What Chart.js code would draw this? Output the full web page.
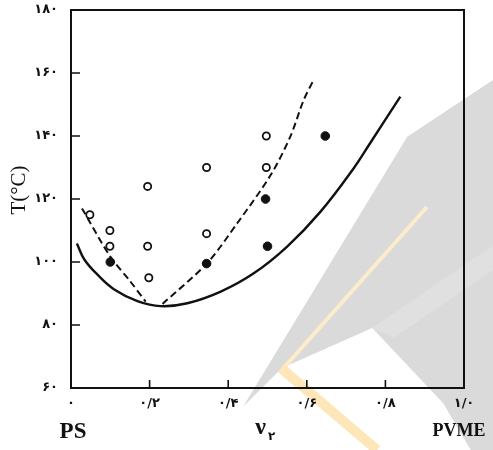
<!DOCTYPE html>
<html>
<head>
<meta charset="utf-8">
<script src="https://cdn.jsdelivr.net/npm/chart.js@4/dist/chart.umd.min.js"></script>
<style>
  html, body { margin: 0; padding: 0; background: #ffffff; }
  #wrap { width: 493px; height: 450px; }
</style>
</head>
<body>
<div id="wrap"><canvas id="c" width="493" height="450"></canvas></div>
<script>
// ---- Tick labels (Persian digits) ----
const xTickValues = [0, 0.2, 0.4, 0.6, 0.8, 1.0];
const xTickLabels = ['۰', '۰/۲', '۰/۴', '۰/۶', '۰/۸', '۱/۰'];
const yTickValues = [60, 80, 100, 120, 140, 160, 180];
const yTickLabels = ['۶۰', '۸۰', '۱۰۰', '۱۲۰', '۱۴۰', '۱۶۰', '۱۸۰'];

// ---- Open circles (one phase) ----
const openV = [0.048, 0.099, 0.099, 0.195, 0.195, 0.198, 0.345, 0.345, 0.497, 0.497];
const openT = [115, 110, 105, 124, 105, 95, 130, 109, 140, 130];

// ---- Filled circles (two phases) ----
const filledV = [0.100, 0.345, 0.495, 0.500, 0.647];
const filledT = [100, 99.5, 120, 105, 140];

// ---- Solid curve (binodal) ----
const solidV = [0.015, 0.034, 0.068, 0.110, 0.169, 0.228, 0.296, 0.381, 0.465, 0.550, 0.635, 0.719, 0.761, 0.838];
const solidT = [105.9, 100.8, 95.9, 91.3, 87.6, 86.0, 86.9, 90.6, 96.4, 104.9, 116.0, 129.7, 137.7, 152.5];

// ---- Dashed curve, left branch ----
const dashLeftV = [0.028, 0.100, 0.148, 0.190];
const dashLeftT = [117.0, 101.7, 94.3, 87.4];

// ---- Dashed curve, right branch ----
const dashRightV = [0.233, 0.346, 0.423, 0.508, 0.558, 0.592, 0.618];
const dashRightT = [86.7, 99.6, 112.3, 127.6, 139.8, 151.4, 158.0];

const pts = (xs, ys) => xs.map((x, i) => ({ x: x, y: ys[i] }));

// Background watermark (decorative, in canvas fractions)
const watermarkPlugin = {
  id: 'watermark',
  beforeDraw(chart) {
    const ctx = chart.ctx, W = chart.width, H = chart.height;
    const P = (fx, fy) => [fx * W, fy * H];
    const fillPoly = (arr, col) => {
      ctx.fillStyle = col;
      ctx.beginPath();
      arr.forEach((p, i) => i ? ctx.lineTo(p[0], p[1]) : ctx.moveTo(p[0], p[1]));
      ctx.closePath();
      ctx.fill();
    };
    ctx.save();
    fillPoly([P(0.826, 0.304), P(1.0, 0.178), P(1.0, 1.0), P(0.955, 1.0),
              P(0.899, 0.896), P(0.755, 0.729), P(0.572, 0.818), P(0.493, 0.904)], '#dadada');
    fillPoly([P(0.755, 0.729), P(1.0, 0.545), P(1.0, 0.60), P(0.80, 0.75)], '#e0e0e0');
    ctx.strokeStyle = '#fdeccb';
    ctx.lineWidth = 4;
    ctx.lineCap = 'butt';
    ctx.beginPath();
    ctx.moveTo(...P(0.866, 0.460));
    ctx.lineTo(...P(0.572, 0.822));
    ctx.stroke();
    ctx.strokeStyle = '#fde6b8';
    ctx.lineWidth = 10;
    ctx.beginPath();
    ctx.moveTo(...P(0.570, 0.818));
    ctx.lineTo(...P(0.765, 1.0));
    ctx.stroke();
    ctx.restore();
  }
};

// Frame + inward ticks
const framePlugin = {
  id: 'frame',
  beforeDatasetsDraw(chart) {
    const { ctx, chartArea: a, scales } = chart;
    ctx.save();
    ctx.strokeStyle = '#111';
    ctx.lineWidth = 2;
    ctx.strokeRect(a.left, a.top, a.right - a.left, a.bottom - a.top);
    ctx.lineWidth = 1.6;
    ctx.beginPath();
    xTickValues.forEach(v => {
      const px = scales.x.getPixelForValue(v);
      if (px > a.left + 2 && px < a.right - 2) {
        ctx.moveTo(px, a.bottom);
        ctx.lineTo(px, a.bottom - 8);
      }
    });
    yTickValues.forEach(v => {
      const py = scales.y.getPixelForValue(v);
      if (py > a.top + 2 && py < a.bottom - 2) {
        ctx.moveTo(a.left, py);
        ctx.lineTo(a.left + 9, py);
      }
    });
    ctx.stroke();
    ctx.restore();
  }
};

// Axis captions
const captionPlugin = {
  id: 'captions',
  afterDraw(chart) {
    const { ctx, scales } = chart;
    const xs = scales.x;
    ctx.save();
    ctx.fillStyle = '#111';
    ctx.textBaseline = 'middle';
    ctx.textAlign = 'center';
    ctx.font = 'bold 23px "Liberation Serif"';
    ctx.fillText('PS', xs.getPixelForValue(0) + 2, 432);
    ctx.font = 'bold 18px "Liberation Serif"';
    ctx.fillText('PVME', xs.getPixelForValue(1) - 5, 431);
    const nx = xs.getPixelForValue(0.49);
    ctx.font = 'bold 24px "Liberation Serif"';
    ctx.fillText('ν', nx - 3, 428);
    ctx.font = 'bold 12px "DejaVu Sans"';
    ctx.fillText('۲', nx + 8, 437);
    ctx.translate(19, 190);
    ctx.rotate(-Math.PI / 2);
    ctx.font = '21px "Liberation Serif"';
    ctx.fillText('T(°C)', 0, 0);
    ctx.restore();
  }
};

const tickFont = { family: '"DejaVu Sans"', size: 13, weight: 'bold' };

new Chart(document.getElementById('c'), {
  type: 'scatter',
  data: {
    datasets: [
      {
        label: 'solid', data: pts(solidV, solidT), showLine: true,
        borderColor: '#111', borderWidth: 2.4, pointRadius: 0,
        tension: 0.4, fill: false
      },
      {
        label: 'dashLeft', data: pts(dashLeftV, dashLeftT), showLine: true,
        borderColor: '#111', borderWidth: 2, borderDash: [7, 4], pointRadius: 0,
        tension: 0.3, fill: false
      },
      {
        label: 'dashRight', data: pts(dashRightV, dashRightT), showLine: true,
        borderColor: '#111', borderWidth: 2, borderDash: [7, 4], pointRadius: 0,
        tension: 0.3, fill: false
      },
      {
        label: 'open', data: pts(openV, openT), showLine: false,
        pointRadius: 3.6, pointBorderWidth: 1.8, pointBorderColor: '#111',
        pointBackgroundColor: '#ffffff'
      },
      {
        label: 'filled', data: pts(filledV, filledT), showLine: false,
        pointRadius: 4.3, pointBorderWidth: 1, pointBorderColor: '#111',
        pointBackgroundColor: '#111'
      }
    ]
  },
  options: {
    responsive: false,
    animation: false,
    layout: { padding: { top: 10, right: 29, left: 0, bottom: 0 } },
    plugins: { legend: { display: false }, tooltip: { enabled: false } },
    scales: {
      x: {
        type: 'linear', min: 0, max: 1,
        afterBuildTicks: s => { s.ticks = xTickValues.map(v => ({ value: v })); },
        afterFit: s => { s.height = 62; s.paddingLeft = 0; s.paddingRight = 0; },
        grid: { display: false, drawTicks: false },
        border: { display: true, color: '#111', width: 2 },
        ticks: {
          color: '#111', font: tickFont, padding: 8, maxRotation: 0,
          callback: v => xTickLabels[xTickValues.findIndex(t => Math.abs(t - v) < 1e-6)]
        }
      },
      y: {
        type: 'linear', min: 60, max: 180,
        afterBuildTicks: s => { s.ticks = yTickValues.map(v => ({ value: v })); },
        afterFit: s => { s.width = 71; s.paddingTop = 0; s.paddingBottom = 0; },
        grid: { display: false, drawTicks: false },
        border: { display: true, color: '#111', width: 2 },
        ticks: {
          color: '#111', font: tickFont, padding: 13,
          callback: v => yTickLabels[yTickValues.findIndex(t => Math.abs(t - v) < 1e-6)]
        }
      }
    }
  },
  plugins: [watermarkPlugin, framePlugin, captionPlugin]
});
</script>
</body>
</html>
